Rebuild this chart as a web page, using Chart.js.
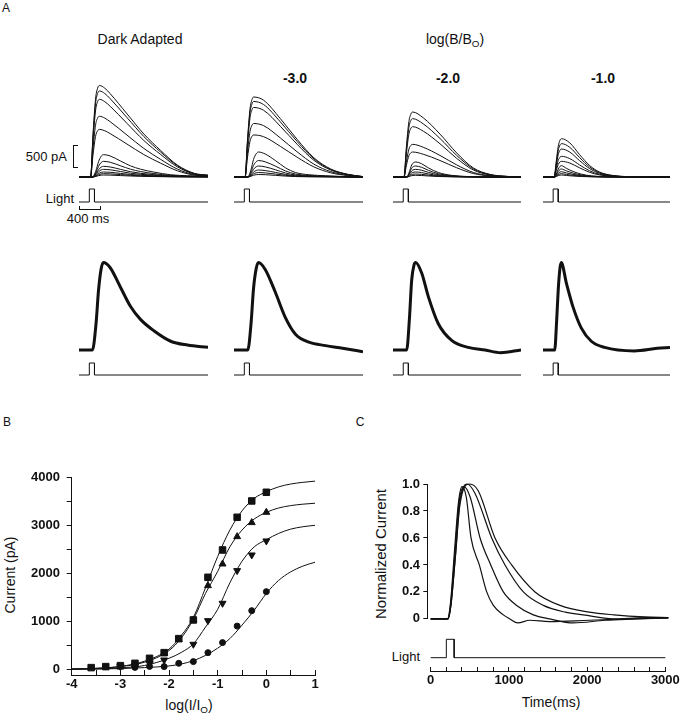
<!DOCTYPE html>
<html>
<head>
<meta charset="utf-8">
<script src="https://cdn.jsdelivr.net/npm/chart.js@4.4.1/dist/chart.umd.min.js"></script>
<style>
  html, body { margin: 0; padding: 0; background: #fff; }
  #fig { position: relative; width: 685px; height: 720px; overflow: hidden;
         font-family: Arial, "Liberation Sans", Helvetica, sans-serif; color: #111; }
  #fig canvas { position: absolute; }
  .t { position: absolute; white-space: nowrap; line-height: 1; font-size: 14px;
       transform: translate(-50%, -50%); }
  .r { transform: translate(-100%, -50%); }
  .v { transform: translate(-50%, -50%) rotate(-90deg); }
  .b { font-weight: bold; }
  sub { font-size: 0.7em; vertical-align: -0.3em; line-height: 0; }
  .bar { position: absolute; border: 0 solid #111; }
</style>
</head>
<body>
<div id="fig">
  <div class="t" style="left:6px;top:8px;font-size:12px">A</div>
  <div class="t" style="left:140px;top:39px">Dark Adapted</div>
  <div class="t" style="left:455px;top:39px">log(B/B<sub>O</sub>)</div>
  <div class="t b" style="left:295px;top:78px">-3.0</div>
  <div class="t b" style="left:448px;top:78px">-2.0</div>
  <div class="t b" style="left:603px;top:78px">-1.0</div>

  <div class="t r" style="left:67px;top:156px;font-size:13px">500 pA</div>
  <div class="bar" style="left:73px;top:145px;width:4px;height:21px;border-width:1px 0 1px 1px"></div>
  <div class="t r" style="left:74px;top:198px;font-size:13px">Light</div>
  <div class="bar" style="left:79px;top:206px;width:20px;height:3px;border-width:0 1px 1px 1px"></div>
  <div class="t" style="left:88px;top:218px;font-size:13px">400 ms</div>

  <div class="t" style="left:7px;top:422px;font-size:12px">B</div>
  <div class="t v" style="left:10px;top:575px">Current (pA)</div>
  <div class="t" style="left:189px;top:705px">log(I/I<sub>O</sub>)</div>

  <div class="t" style="left:360px;top:422px;font-size:12px">C</div>
  <div class="t v" style="left:380px;top:554px;font-size:15px">Normalized Current</div>
  <div class="t r" style="left:420px;top:656px;font-size:13px">Light</div>
  <div class="t" style="left:551px;top:702px">Time(ms)</div>
</div>

<script>
// ---- Panel A: response shapes (normalised), times in ms ----
const F1_T_BRIGHT = [0, 225, 270, 320, 360, 397, 500, 605, 931, 1257, 1582, 1908, 2233, 2500];
const F1_V_BRIGHT = [0, 0, 0.45, 0.85, 0.97, 1, 0.97, 0.91, 0.69, 0.47, 0.29, 0.13, 0.04, 0.02];
const F1_T_DIM = [0, 260, 330, 378, 430, 475, 605, 801, 996, 1191, 1451, 1777, 2103, 2500];
const F1_V_DIM = [0, 0, 0.3, 0.68, 0.93, 1, 0.94, 0.72, 0.5, 0.35, 0.22, 0.1, 0.056, 0.03];

const F2_T_BRIGHT = [0, 215, 260, 310, 350, 378, 573, 898, 1224, 1549, 1875, 2201, 2500];
const F2_V_BRIGHT = [0, 0, 0.45, 0.85, 0.97, 1, 0.96, 0.73, 0.47, 0.24, 0.1, 0.034, 0.005];
const F2_T_DIM = [0, 267, 330, 378, 430, 475, 605, 801, 996, 1191, 1451, 1777, 2103, 2500];
const F2_V_DIM = [0, 0, 0.3, 0.7, 0.93, 1, 0.92, 0.66, 0.37, 0.18, 0.09, 0.05, 0.02, -0.02];

const F3_T_BRIGHT = [0, 215, 260, 310, 350, 384, 592, 918, 1244, 1568, 1895, 2220, 2500];
const F3_V_BRIGHT = [0, 0, 0.45, 0.85, 0.97, 1, 0.91, 0.66, 0.37, 0.14, 0.04, 0.01, 0];
const F3_T_DIM = [0, 267, 320, 365, 410, 443, 560, 690, 885, 1146, 1471, 1800, 2100, 2500];
const F3_V_DIM = [0, 0, 0.35, 0.8, 0.97, 1, 0.88, 0.61, 0.3, 0.11, 0.03, 0, -0.03, 0];

const F4_T_BRIGHT = [0, 220, 260, 300, 335, 365, 527, 723, 918, 1113, 1373, 1699, 2500];
const F4_V_BRIGHT = [0, 0, 0.4, 0.8, 0.96, 1, 0.89, 0.58, 0.3, 0.13, 0.04, 0.01, 0];
const F4_T_DIM = [0, 230, 270, 300, 335, 360, 462, 592, 755, 951, 1211, 1797, 2250, 2500];
const F4_V_DIM = [0, 0, 0.35, 0.69, 0.94, 1, 0.76, 0.49, 0.25, 0.1, 0.03, -0.01, 0.02, 0.03];

// peak amplitudes of each trace in the family (pA)
const F1_AMP_BRIGHT = [2080, 1955, 1765, 1380, 1083];
const F1_AMP_DIM = [508, 356, 242, 174, 114, 76, 45];
const F2_AMP_BRIGHT = [1818, 1716, 1580, 1216, 955];
const F2_AMP_DIM = [568, 375, 250, 159, 102, 57];
const F3_AMP_BRIGHT = [1477, 1326, 1144, 742, 568];
const F3_AMP_DIM = [341, 250, 174, 114, 68, 38];
const F4_AMP_BRIGHT = [871, 758, 636, 470, 356];
const F4_AMP_DIM = [258, 182, 121, 76, 45];

// light stimulus (on 200-300 ms)
const STIM_T = [0, 200, 200, 300, 300, 2500];
const STIM_V = [0, 0, 1, 1, 0, 0];

// ---- Panel B: intensity-response ----
const B_X_SQUARE = [-3.6, -3.3, -3.0, -2.7, -2.4, -2.1, -1.8, -1.5, -1.2, -0.9, -0.6, -0.3, 0];
const B_Y_SQUARE = [35, 56, 76, 125, 229, 347, 639, 1028, 1917, 2486, 3167, 3507, 3688];
const B_X_TRI_UP = [-3.0, -2.7, -2.4, -2.1, -1.8, -1.5, -1.2, -0.9, -0.6, -0.3, 0];
const B_Y_TRI_UP = [50, 90, 180, 330, 620, 1028, 1743, 2194, 2764, 3056, 3271];
const B_X_TRI_DOWN = [-3.0, -2.7, -2.4, -2.1, -1.5, -1.2, -0.9, -0.6, -0.3, 0];
const B_Y_TRI_DOWN = [56, 76, 125, 194, 521, 1014, 1375, 2056, 2382, 2674];
const B_X_CIRCLE = [-2.7, -2.4, -2.1, -1.8, -1.5, -1.2, -0.9, -0.6, -0.3, 0];
const B_Y_CIRCLE = [40, 60, 56, 125, 160, 347, 556, 900, 1222, 1618];

const B_FIT_X = [-4, -3.5, -3, -2.5, -2, -1.75, -1.5, -1.25, -1, -0.75, -0.5, -0.25, 0, 0.25, 0.5, 0.75, 1];
const B_FIT_SQUARE = [5, 20, 60, 170, 420, 700, 1080, 1700, 2350, 2900, 3300, 3560, 3700, 3800, 3860, 3895, 3920];
const B_FIT_TRI_UP = [5, 20, 55, 150, 390, 650, 1040, 1580, 2040, 2550, 2900, 3130, 3270, 3360, 3410, 3440, 3460];
const B_FIT_TRI_DOWN = [3, 10, 30, 80, 230, 350, 530, 880, 1250, 1800, 2250, 2550, 2700, 2830, 2920, 2970, 3000];
const B_FIT_CIRCLE = [2, 5, 15, 35, 70, 110, 180, 290, 440, 640, 920, 1230, 1580, 1850, 2030, 2150, 2230];

const B_X_TICKS = [-4, -3.5, -3, -2.5, -2, -1.5, -1, -0.5, 0, 0.5, 1];
const B_Y_TICKS = [0, 500, 1000, 1500, 2000, 2500, 3000, 3500, 4000];

// ---- Panel C: normalised responses ----
const C_T1 = [0, 210, 250, 300, 350, 395, 450, 509, 614, 707, 791, 917, 1000, 1100, 1250, 1500, 2000, 2500, 3000];
const C_V1 = [0, 0, 0.12, 0.5, 0.86, 0.98, 0.9, 0.6, 0.4, 0.2, 0.1, 0.03, 0, -0.03, -0.01, -0.02, -0.01, 0, 0.005];
const C_T2 = [0, 215, 250, 305, 355, 420, 500, 623, 758, 917, 1085, 1296, 1500, 1800, 2200, 2600, 3000];
const C_V2 = [0, 0, 0.1, 0.48, 0.85, 0.98, 0.9, 0.6, 0.4, 0.2, 0.1, 0.03, 0, -0.03, -0.01, 0, 0.01];
const C_T3 = [0, 220, 255, 310, 365, 460, 560, 770, 938, 1170, 1422, 1700, 1927, 2300, 2700, 3000];
const C_V3 = [0, 0, 0.1, 0.45, 0.85, 1, 0.93, 0.6, 0.4, 0.2, 0.1, 0.05, 0.03, 0, 0.01, 0.01];
const C_T4 = [0, 220, 255, 310, 370, 490, 600, 812, 1022, 1317, 1633, 2000, 2314, 2700, 3000];
const C_V4 = [0, 0, 0.1, 0.45, 0.85, 1, 0.95, 0.6, 0.4, 0.2, 0.1, 0.05, 0.03, 0.015, 0.01];
const C_STIM_T = [0, 200, 200, 300, 300, 3000];
const C_STIM_V = [0, 0, 1, 1, 0, 0];

const C_X_TICKS = [0, 200, 400, 600, 800, 1000, 1200, 1400, 1600, 1800, 2000, 2200, 2400, 2600, 2800, 3000];
const C_Y_TICKS = [0, 0.2, 0.4, 0.6, 0.8, 1.0];

/* ========================= */
/* HELPERS                   */
/* ========================= */

const NEGRO = "#111";
const FUENTE = "Arial, 'Liberation Sans', Helvetica, sans-serif";

Chart.defaults.font.family = FUENTE;
Chart.defaults.color = NEGRO;

function lienzo(left, top, width, height) {
  const c = document.createElement("canvas");
  c.width = width;
  c.height = height;
  c.style.left = left + "px";
  c.style.top = top + "px";
  document.getElementById("fig").appendChild(c);
  return c;
}

// min/max of a hidden vertical axis so that v0 sits at pixel p0 and v1 at p1
function rango(v0, p0, v1, p1, top, bottom) {
  const ppu = (p0 - p1) / (v1 - v0);
  return { min: v0 - (bottom - p0) / ppu, max: v1 + (p1 - top) / ppu };
}

function puntos(ts, vs, k = 1) {
  return ts.map((t, i) => ({ x: t, y: vs[i] * k }));
}

const BASE = {
  responsive: false,
  animation: false,
  events: [],
  plugins: { legend: { display: false }, tooltip: { enabled: false } },
  elements: { point: { radius: 0 } }
};

function trazo(data, extra = {}) {
  return {
    data,
    borderColor: NEGRO,
    borderWidth: 1,
    fill: false,
    clip: false,
    cubicInterpolationMode: "monotone",
    ...extra
  };
}

function escalon(data, axis) {
  return { data, yAxisID: axis, borderColor: NEGRO, borderWidth: 1, tension: 0, fill: false, clip: false };
}

/* ========================= */
/* PANEL A                   */
/* ========================= */

const FAMILIAS = [
  { left: 79, width: 129, tB: F1_T_BRIGHT, vB: F1_V_BRIGHT, tD: F1_T_DIM, vD: F1_V_DIM, aB: F1_AMP_BRIGHT, aD: F1_AMP_DIM },
  { left: 234, width: 129, tB: F2_T_BRIGHT, vB: F2_V_BRIGHT, tD: F2_T_DIM, vD: F2_V_DIM, aB: F2_AMP_BRIGHT, aD: F2_AMP_DIM },
  { left: 393, width: 128, tB: F3_T_BRIGHT, vB: F3_V_BRIGHT, tD: F3_T_DIM, vD: F3_V_DIM, aB: F3_AMP_BRIGHT, aD: F3_AMP_DIM },
  { left: 543, width: 127, tB: F4_T_BRIGHT, vB: F4_V_BRIGHT, tD: F4_T_DIM, vD: F4_V_DIM, aB: F4_AMP_BRIGHT, aD: F4_AMP_DIM }
];

const stim = puntos(STIM_T, STIM_V);

FAMILIAS.forEach(f => {
  // top row: family of responses in pA
  const yTop = rango(0, 177, 500, 155, 80, 215);
  const lTop = rango(0, 202, 1, 189, 80, 215);
  const trazas = [
    ...f.aB.map(a => trazo(puntos(f.tB, f.vB, a))),
    ...f.aD.map(a => trazo(puntos(f.tD, f.vD, a)))
  ];
  new Chart(lienzo(f.left, 80, f.width, 135), {
    type: "line",
    data: { datasets: [...trazas, escalon(stim, "yL")] },
    options: {
      ...BASE,
      layout: { padding: 0 },
      scales: {
        x: { type: "linear", display: false, min: 0, max: 2500 },
        y: { display: false, ...yTop },
        yL: { display: false, ...lTop }
      }
    }
  });

  // bottom row: normalised dim responses
  const yBot = rango(0, 350, 1, 262.5, 255, 385);
  const lBot = rango(0, 375, 1, 363, 255, 385);
  new Chart(lienzo(f.left, 255, f.width, 130), {
    type: "line",
    data: {
      datasets: [
        trazo(puntos(f.tD, f.vD), { borderWidth: 3 }),
        escalon(stim, "yL")
      ]
    },
    options: {
      ...BASE,
      layout: { padding: 0 },
      scales: {
        x: { type: "linear", display: false, min: 0, max: 2500 },
        y: { display: false, ...yBot },
        yL: { display: false, ...lBot }
      }
    }
  });
});

/* ========================= */
/* PANEL B                   */
/* ========================= */

const TICK_FONT = { size: 13, weight: "bold", family: FUENTE };

function marcador(xs, ys, estilo, radio, rot = 0) {
  return {
    data: puntos(xs, ys),
    showLine: false,
    pointStyle: estilo,
    pointRadius: radio,
    pointRotation: rot,
    pointBackgroundColor: NEGRO,
    pointBorderColor: NEGRO,
    pointBorderWidth: 1,
    clip: false
  };
}

const bY = rango(0, 669.3, 4000, 477.3, 477.3, 675);

new Chart(lienzo(0, 460, 330, 240), {
  type: "line",
  data: {
    datasets: [
      trazo(puntos(B_FIT_X, B_FIT_SQUARE)),
      trazo(puntos(B_FIT_X, B_FIT_TRI_UP)),
      trazo(puntos(B_FIT_X, B_FIT_TRI_DOWN)),
      trazo(puntos(B_FIT_X, B_FIT_CIRCLE)),
      marcador(B_X_SQUARE, B_Y_SQUARE, "rect", 4.6),
      marcador(B_X_TRI_UP, B_Y_TRI_UP, "triangle", 4),
      marcador(B_X_TRI_DOWN, B_Y_TRI_DOWN, "triangle", 4, 180),
      marcador(B_X_CIRCLE, B_Y_CIRCLE, "circle", 3)
    ]
  },
  options: {
    ...BASE,
    layout: { padding: { left: 0, top: 17.3, right: 15, bottom: 0 } },
    scales: {
      x: {
        type: "linear",
        min: -4,
        max: 1,
        afterBuildTicks: s => { s.ticks = B_X_TICKS.map(v => ({ value: v })); },
        afterFit: s => { s.height = 25; },
        grid: { drawOnChartArea: false, tickLength: -5, color: NEGRO },
        border: { color: NEGRO, width: 1 },
        ticks: {
          autoSkip: false,
          maxRotation: 0,
          padding: 7,
          font: TICK_FONT,
          color: NEGRO,
          callback: v => (Number.isInteger(v) ? String(v) : "")
        }
      },
      y: {
        min: bY.min,
        max: bY.max,
        afterBuildTicks: s => { s.ticks = B_Y_TICKS.map(v => ({ value: v })); },
        afterFit: s => { s.width = 71.7; },
        grid: { drawOnChartArea: false, tickLength: 5, color: NEGRO },
        border: { color: NEGRO, width: 1 },
        ticks: {
          autoSkip: false,
          padding: 6.7,
          font: TICK_FONT,
          color: NEGRO,
          callback: v => (v % 1000 === 0 ? String(v) : "")
        }
      }
    }
  }
});

/* ========================= */
/* PANEL C                   */
/* ========================= */

new Chart(lienzo(360, 470, 325, 160), {
  type: "line",
  data: {
    datasets: [
      trazo(puntos(C_T1, C_V1), { borderWidth: 1.2 }),
      trazo(puntos(C_T2, C_V2), { borderWidth: 1.2 }),
      trazo(puntos(C_T3, C_V3), { borderWidth: 1.2 }),
      trazo(puntos(C_T4, C_V4), { borderWidth: 1.2 })
    ]
  },
  options: {
    ...BASE,
    layout: { padding: { left: 0, top: 14, right: 16.7, bottom: 9.3 } },
    scales: {
      x: { type: "linear", display: false, min: -43, max: 3000 },
      y: {
        min: 0,
        max: 1,
        afterBuildTicks: s => { s.ticks = C_Y_TICKS.map(v => ({ value: v })); },
        afterFit: s => { s.width = 67.3; },
        grid: { drawOnChartArea: false, tickLength: 4, color: NEGRO },
        border: { color: NEGRO, width: 1 },
        ticks: {
          autoSkip: false,
          padding: 3.3,
          font: TICK_FONT,
          color: NEGRO,
          callback: v => (v === 0 ? "0" : v.toFixed(1))
        }
      }
    }
  }
});

const cL = rango(0, 657.7, 1, 639.3, 630, 671);

new Chart(lienzo(400, 630, 285, 61), {
  type: "line",
  data: { datasets: [escalon(puntos(C_STIM_T, C_STIM_V), "y")] },
  options: {
    ...BASE,
    layout: { padding: { left: 30.7, top: 0, right: 16.7, bottom: 0 } },
    scales: {
      x: {
        type: "linear",
        min: 0,
        max: 3000,
        afterBuildTicks: s => { s.ticks = C_X_TICKS.map(v => ({ value: v })); },
        afterFit: s => { s.height = 20; },
        grid: { drawOnChartArea: false, tickLength: -4, color: NEGRO },
        border: { color: NEGRO, width: 1 },
        ticks: {
          autoSkip: false,
          maxRotation: 0,
          padding: 5.2,
          font: TICK_FONT,
          color: NEGRO,
          callback: v => (v % 1000 === 0 ? String(v) : "")
        }
      },
      y: { display: false, min: cL.min, max: cL.max }
    }
  }
});
</script>
</body>
</html>
